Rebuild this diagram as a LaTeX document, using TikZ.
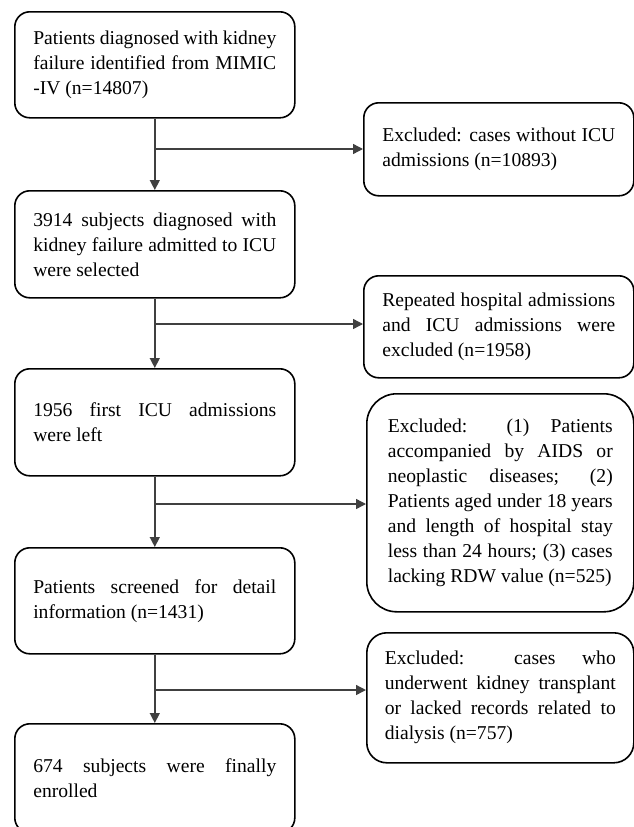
\documentclass[tikz,border=0pt]{standalone}
\usepackage{fontspec}
\setmainfont{Liberation Serif}
\usetikzlibrary{arrows.meta, calc}
\definecolor{LineGrey}{RGB}{64,64,64}
\hyphenpenalty=10000
\exhyphenpenalty=10000

\begin{document}
\begin{tikzpicture}[x=1pt, y=-1pt, >={Triangle[length=10pt, width=10pt]},
    box/.style={draw, line width=1.6pt, rounded corners=15pt, anchor=north west, align=justify, inner ysep=0pt, font=\fontsize{19.6}{25}\selectfont},
    mainbox/.style={box, text width=243pt, inner xsep=18.5pt},
    flow/.style={draw=LineGrey, line width=1.4pt}]
\clip (0,0) rectangle (634,827);
% main column
\node[mainbox, minimum height=106pt] (s1) at (14,11) {Patients diagnosed with kidney\linebreak failure identified from MIMIC\linebreak -IV (n=14807)};
\node[mainbox, minimum height=107pt] (s2) at (14,190) {3914 subjects diagnosed with\linebreak kidney failure admitted to ICU\linebreak were selected};
\node[mainbox, minimum height=107pt] (s3) at (14,368) {1956 first ICU admissions\linebreak were left};
\node[mainbox, minimum height=106pt] (s4) at (14,547) {Patients screened for detail\linebreak information (n=1431)};
\node[mainbox, minimum height=109pt] (s5) at (14,723) {674 subjects were finally\linebreak enrolled};
% exclusions
\node[box, text width=233pt, inner xsep=18.5pt, minimum height=93pt] (x1) at (363,102) {Excluded: cases without ICU\linebreak admissions (n=10893)};
\node[box, text width=233pt, inner xsep=18.5pt, minimum height=102pt] (x2) at (363,275) {Repeated hospital admissions\linebreak and ICU admissions were\linebreak excluded (n=1958)};
\node[box, text width=225pt, inner xsep=21pt, minimum height=218pt, rounded corners=30pt] (x3) at (366,393) {Excluded: (1) Patients\linebreak accompanied by AIDS or\linebreak neoplastic diseases; (2)\linebreak Patients aged under 18 years\linebreak and length of hospital stay\linebreak less than 24 hours; (3) cases\linebreak lacking RDW value (n=525)};
\node[box, text width=231pt, inner xsep=18pt, minimum height=130pt, rounded corners=20pt] (x4) at (366,632) {Excluded: cases who\linebreak underwent kidney transplant\linebreak or lacked records related to\linebreak dialysis (n=757)};
% connectors
\coordinate (j1) at (154,149);
\coordinate (j2) at (154,324);
\coordinate (j3) at (154,504);
\coordinate (j4) at (154,690);
\foreach \a/\b/\j/\x in {s1/s2/j1/x1, s2/s3/j2/x2, s3/s4/j3/x3, s4/s5/j4/x4}
{
    \draw[flow, ->] (\a.south) -- (\b.north);
    \draw[flow, ->] (\j) -- (\j -| \x.west);
}
\end{tikzpicture}
\end{document}
